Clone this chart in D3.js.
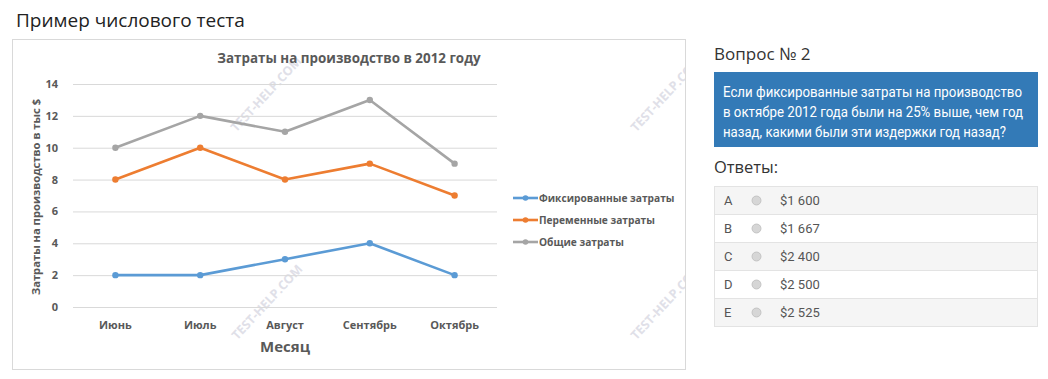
<!DOCTYPE html>
<html><head><meta charset="utf-8">
<script src="https://cdn.jsdelivr.net/npm/d3@7"></script>
<style>
html,body{margin:0;padding:0;background:#fff;overflow:hidden;}
svg{display:block;}
</style></head>
<body>
<svg id="c" width="1048" height="379"></svg>
<script>
const months = ["Июнь","Июль","Август","Сентябрь","Октябрь"];
const fixedCosts = [2,2,3,4,2];
const variableCosts = [8,10,8,9,7];
const totalCosts = [10,12,11,13,9];
const seriesNames = ["Фиксированные затраты","Переменные затраты","Общие затраты"];
const seriesColors = ["#5b9bd5","#ed7d31","#a5a5a5"];
const yTicks = [0,2,4,6,8,10,12,14];
const questionLines = ["Если фиксированные затраты на производство","в октябре 2012 года были на 25% выше, чем год","назад, какими были эти издержки год назад?"];
const questionWidths = [299,300,283];
const answerLetters = ["A","B","C","D","E"];
const answerValues = ["$1 600","$1 667","$2 400","$2 500","$2 525"];

const series = [fixedCosts, variableCosts, totalCosts];
const svg = d3.select("#c");

// page title
svg.append("text").attr("x",16).attr("y",27).attr("font-family","Open Sans").attr("font-size",19)
  .attr("fill","#222").text("Пример числового теста");

// chart frame
svg.append("rect").attr("x",12.5).attr("y",39.5).attr("width",673).attr("height",330)
  .attr("fill","#fff").attr("stroke","#d9d9d9");

const defs = svg.append("defs");
defs.append("clipPath").attr("id","frame").append("rect").attr("x",13).attr("y",40).attr("width",672).attr("height",329);

// watermarks
const wm = svg.append("g").attr("clip-path","url(#frame)");
[[266,94],[267,302],[666,94],[666,302]].forEach(p=>{
  wm.append("text").attr("transform",`translate(${p[0]},${p[1]}) rotate(-47)`)
    .attr("text-anchor","middle").attr("dominant-baseline","central")
    .attr("font-family","Open Sans").attr("font-weight","bold").attr("font-size",12.5)
    .attr("fill","#e0e0e8").text("TEST-HELP.COM");
});

const x = d3.scaleBand().domain(months).range([73,497]);
const y = d3.scaleLinear().domain([0,14]).range([307,84]);
const txt = "#595959";

// chart title
svg.append("text").attr("x",349).attr("y",63).attr("text-anchor","middle")
  .attr("font-family","Open Sans").attr("font-weight","bold").attr("font-size",13.4)
  .attr("fill",txt).text("Затраты на производство в 2012 году");

// grid + y labels
const yAxis = d3.axisLeft(y).tickValues(yTicks).tickSize(-(497-73)).tickPadding(15);
const gy = svg.append("g").attr("transform","translate(73,0)").call(yAxis);
gy.select(".domain").remove();
gy.selectAll(".tick line").attr("stroke","#d9d9d9");
gy.selectAll(".tick text").attr("font-family","Open Sans").attr("font-weight","bold")
  .attr("font-size",11).attr("fill",txt);

// x labels
const xAxis = d3.axisBottom(x).tickSize(0).tickPadding(14);
const gx = svg.append("g").attr("transform","translate(0,307)").call(xAxis);
gx.select(".domain").remove();
gx.selectAll(".tick text").attr("font-family","Open Sans").attr("font-weight","bold")
  .attr("font-size",11).attr("fill",txt);

// axis titles
svg.append("text").attr("x",285).attr("y",352).attr("text-anchor","middle")
  .attr("font-family","Open Sans").attr("font-weight","bold").attr("font-size",15)
  .attr("fill",txt).text("Месяц");
svg.append("text").attr("transform","translate(40,197) rotate(-90)").attr("text-anchor","middle")
  .attr("font-family","Open Sans").attr("font-weight","bold").attr("font-size",11.2)
  .attr("fill",txt).text("Затраты на производство в тыс $");

// lines
const line = d3.line().x((d,i)=>x(months[i])+x.bandwidth()/2).y(d=>y(d));
series.forEach((s,k)=>{
  svg.append("path").datum(s).attr("d",line).attr("fill","none")
    .attr("stroke",seriesColors[k]).attr("stroke-width",2.6).attr("stroke-linejoin","round");
  svg.selectAll(null).data(s).enter().append("circle")
    .attr("cx",(d,i)=>x(months[i])+x.bandwidth()/2).attr("cy",d=>y(d)).attr("r",3.2)
    .attr("fill",seriesColors[k]);
});

// legend
const legY = [198,220,242];
seriesNames.forEach((n,k)=>{
  const g = svg.append("g").attr("transform",`translate(0,${legY[k]})`);
  g.append("line").attr("x1",513).attr("x2",538).attr("stroke",seriesColors[k]).attr("stroke-width",2.6);
  g.append("circle").attr("cx",525.5).attr("r",2.8).attr("fill",seriesColors[k]);
  g.append("text").attr("x",539).attr("y",4).attr("font-family","Open Sans").attr("font-weight","bold")
    .attr("font-size",10.2).attr("fill",txt).text(n);
});

// right panel
svg.append("text").attr("x",714).attr("y",60).attr("font-family","Open Sans").attr("font-size",17)
  .attr("fill","#333").text("Вопрос № 2");
svg.append("rect").attr("x",714).attr("y",72).attr("width",324).attr("height",75).attr("fill","#337ab7");
questionLines.forEach((l,i)=>{
  svg.append("text").attr("x",723).attr("y",97+i*20).attr("font-family","Roboto").attr("font-size",14)
    .attr("textLength",questionWidths[i]).attr("lengthAdjust","spacingAndGlyphs")
    .attr("fill","#fff").text(l);
});
svg.append("text").attr("x",714).attr("y",173).attr("font-family","Open Sans").attr("font-size",16.5)
  .attr("fill","#333").text("Ответы:");

const rowH = 28, rowTop = 186.5;
answerLetters.forEach((a,i)=>{
  const g = svg.append("g").attr("transform",`translate(0,${rowTop+i*rowH})`);
  g.append("rect").attr("x",714.5).attr("y",0).attr("width",323).attr("height",rowH)
    .attr("fill", i%2===0 ? "#f5f5f5" : "#fff").attr("stroke","#e3e3e3");
  g.append("text").attr("x",724).attr("y",18.5).attr("font-family","Roboto").attr("font-size",13)
    .attr("fill","#555").text(a);
  g.append("circle").attr("cx",756.5).attr("cy",14).attr("r",4.5).attr("fill","#d6d6d6").attr("stroke","#bbb").attr("stroke-width",0.8);
  g.append("text").attr("x",780).attr("y",18.5).attr("font-family","Roboto").attr("font-size",13)
    .attr("fill","#555").text(answerValues[i]);
});
</script>
</body></html>
